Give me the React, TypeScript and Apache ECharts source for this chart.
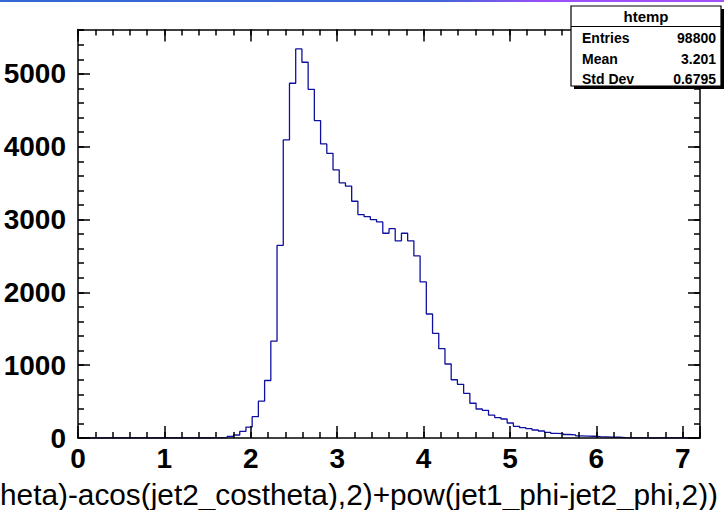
import React, { useEffect, useRef } from "react";
import * as echarts from "echarts";

// ---- data ----
const histName = "htemp";
const xMin = 0;
const xMax = 7.2;
const yMax = 5610;
const binCounts: number[] = [
  0, 0, 0, 0, 0, 0, 0, 0, 0, 0,
  0, 0, 0, 0, 0, 0, 0, 0, 0, 0,
  0, 1, 3, 6, 23, 41, 90, 150, 293, 506,
  790, 1330, 2645, 4093, 4872, 5343, 5160, 4789, 4359, 4038,
  3910, 3681, 3505, 3458, 3251, 3068, 3040, 2999, 2967, 2812,
  2875, 2706, 2812, 2708, 2500, 2143, 1703, 1438, 1227, 1016,
  800, 737, 614, 477, 398, 380, 314, 280, 261, 206,
  160, 142, 128, 110, 96, 78, 64, 60, 48, 42,
  30, 27, 24, 18, 15, 12, 10, 5, 3, 2,
  1, 0, 0, 0, 0, 0, 0, 0, 0, 0,
];
const statLabels = ["Entries", "Mean", "Std Dev"];
const statValues = ["98800", "3.201", "0.6795"];
const xTitle =
  "sqrt(pow(acos(jet1_costheta)-acos(jet2_costheta),2)+pow(jet1_phi-jet2_phi,2))";

const FONT = "'Liberation Sans', Arial, Helvetica, sans-serif";

export default function App() {
  const ref = useRef<HTMLDivElement>(null);
  useEffect(() => {
    if (!ref.current) return;
    const chart = echarts.init(ref.current, undefined, { renderer: "svg" });
    const nBins = binCounts.length;
    const bw = (xMax - xMin) / nBins;
    const pts: number[][] = binCounts.map((c, i) => [xMin + i * bw, c]);
    pts.push([xMax, binCounts[nBins - 1]]);

    const line = { color: "#000", width: 1.5 };
    const tickStyle = { color: "#000", width: 1.5 };
    const labelBase = {
      color: "#000",
      fontFamily: FONT,
      fontWeight: "bold" as const,
      fontSize: 28,
    };
    const mkX = (pos: string, major: boolean, labels: boolean) => ({
      type: "value",
      min: xMin,
      max: xMax,
      interval: major ? 1 : 0.2,
      position: pos,
      z: 5,
      axisLine: { show: major, onZero: false, lineStyle: line },
      axisTick: { show: true, inside: true, length: major ? 12 : 6, lineStyle: tickStyle },
      axisLabel: labels
        ? {
            ...labelBase,
            margin: 6,
            formatter: (v: number) => (Number.isInteger(v) ? String(v) : ""),
          }
        : { show: false },
      splitLine: { show: false },
    });
    const mkY = (pos: string, major: boolean, labels: boolean) => ({
      type: "value",
      min: 0,
      max: yMax,
      interval: major ? 1000 : 200,
      position: pos,
      z: 5,
      axisLine: { show: major, onZero: false, lineStyle: line },
      axisTick: { show: true, inside: true, length: major ? 12 : 6, lineStyle: tickStyle },
      axisLabel: labels
        ? {
            ...labelBase,
            margin: 12,
            showMaxLabel: false,
            formatter: (v: number) => (v % 1000 === 0 ? String(v) : ""),
          }
        : { show: false },
      splitLine: { show: false },
    });

    const boxL = 571;
    const boxT = 6;
    const boxW = 150;
    const boxH = 80;
    const rowY = [37.5, 58.5, 79];

    const graphics: any[] = [
      {
        type: "rect",
        shape: { x: 0, y: 0, width: 724, height: 2 },
        style: {
          fill: new echarts.graphic.LinearGradient(0, 0, 1, 0, [
            { offset: 0, color: "#3368d6" },
            { offset: 0.6, color: "#3f66d8" },
            { offset: 0.75, color: "#9a4ff5" },
            { offset: 1, color: "#a64ff7" },
          ]),
        },
        z: 20,
      },
      {
        type: "rect",
        shape: { x: boxL + 3, y: boxT + 3, width: boxW, height: boxH },
        style: { fill: "#000" },
        z: 20,
      },
      {
        type: "rect",
        shape: { x: boxL, y: boxT, width: boxW, height: boxH },
        style: { fill: "#fff", stroke: "#000", lineWidth: 1.2 },
        z: 21,
      },
      {
        type: "line",
        shape: { x1: boxL, y1: 26.5, x2: boxL + boxW, y2: 26.5 },
        style: { stroke: "#000", lineWidth: 1.2 },
        z: 22,
      },
      {
        type: "text",
        x: boxL + boxW / 2,
        y: 16,
        style: {
          text: histName,
          fill: "#000",
          font: `bold 15px ${FONT}`,
          textAlign: "center",
          textVerticalAlign: "middle",
        },
        z: 22,
      },
      {
        type: "text",
        x: 718,
        y: 494,
        style: {
          text: xTitle,
          fill: "#000",
          font: `29.8px ${FONT}`,
          textAlign: "right",
          textVerticalAlign: "middle",
        },
        z: 22,
      },
    ];
    statLabels.forEach((lab, i) => {
      graphics.push({
        type: "text",
        x: boxL + 11,
        y: rowY[i],
        style: {
          text: lab,
          fill: "#000",
          font: `bold 14px ${FONT}`,
          textAlign: "left",
          textVerticalAlign: "middle",
        },
        z: 22,
      });
      graphics.push({
        type: "text",
        x: boxL + boxW - 5,
        y: rowY[i],
        style: {
          text: statValues[i],
          fill: "#000",
          font: `bold 14px ${FONT}`,
          textAlign: "right",
          textVerticalAlign: "middle",
        },
        z: 22,
      });
    });

    chart.setOption({
      animation: false,
      backgroundColor: "#fff",
      grid: { left: 78, right: 24, top: 29.5, bottom: 72, containLabel: false },
      xAxis: [
        mkX("bottom", true, true),
        mkX("bottom", false, false),
        mkX("top", true, false),
        mkX("top", false, false),
      ],
      yAxis: [
        mkY("left", true, true),
        mkY("left", false, false),
        mkY("right", true, false),
        mkY("right", false, false),
      ],
      series: [
        {
          type: "line",
          step: "end",
          data: pts,
          xAxisIndex: 0,
          yAxisIndex: 0,
          showSymbol: false,
          symbol: "none",
          lineStyle: { color: "#1010a0", width: 1.3 },
          z: 2,
        },
      ],
      graphic: graphics,
    });
    return () => chart.dispose();
  }, []);
  return (
    <div
      ref={ref}
      style={{ position: "fixed", left: 0, top: 0, width: 724, height: 510, background: "#fff" }}
    />
  );
}
